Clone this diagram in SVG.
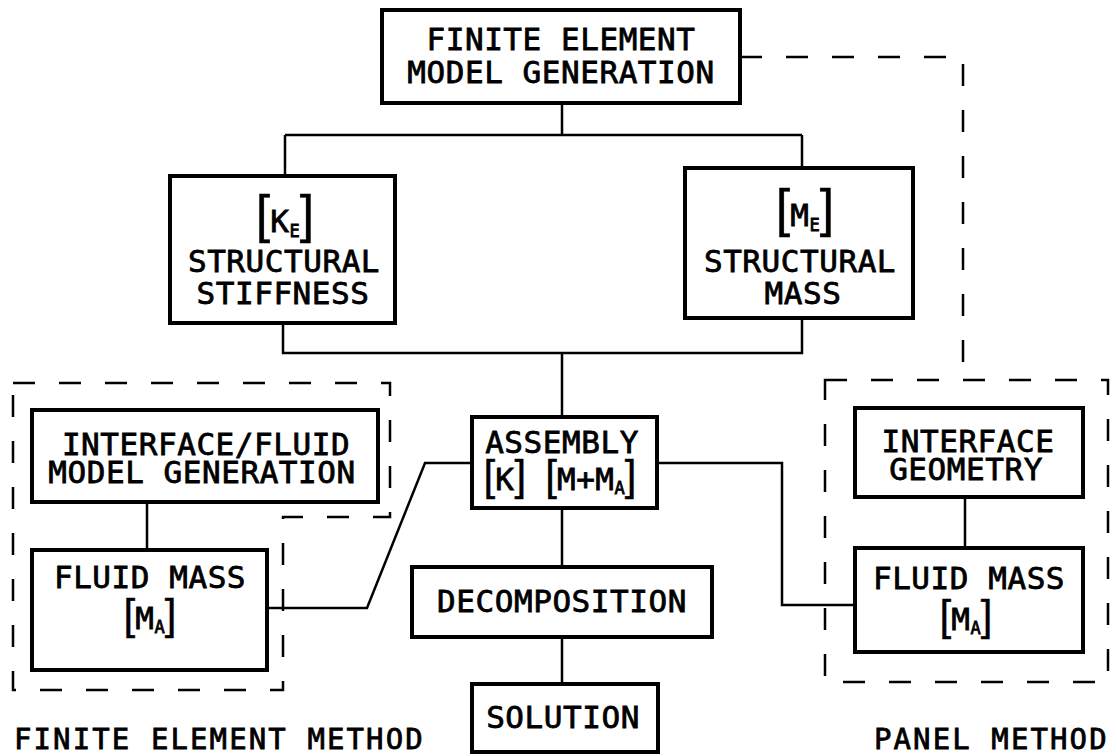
<svg xmlns="http://www.w3.org/2000/svg" width="1117" height="756" viewBox="0 0 1117 756">
<style>
.box{fill:#fff;stroke:#000;stroke-width:4}
.ln{fill:none;stroke:#000;stroke-width:2.5}
.dash{fill:none;stroke:#000;stroke-width:2.5;stroke-dasharray:22 24}
.t{font-family:"DejaVu Sans Mono",monospace;font-size:31px;letter-spacing:0.55px;text-anchor:middle;fill:#000;stroke:#000;stroke-width:0.8}
.cap{font-family:"DejaVu Sans Mono",monospace;font-size:29px;letter-spacing:2.1px;fill:#000;stroke:#000;stroke-width:0.8}
.br{font-family:"Liberation Sans",sans-serif;font-size:52px;letter-spacing:0;stroke-width:0.4}
.brs{font-family:"Liberation Sans",sans-serif;font-size:42px;letter-spacing:0;stroke-width:0.4}
.sub{font-size:17px;letter-spacing:0;stroke-width:0.8}
</style>
<rect width="1117" height="756" fill="#fff"/>
<g id="groups">
<path class="dash" d="M740,57 H963 V380"/>
<path class="dash" d="M13,383 H390 V517 H283 V690 H13 Z"/>
<rect class="dash" x="825" y="380" width="283" height="302"/>
</g>
<g id="connectors">
<path class="ln" d="M562,103 V135 M285,135 H802 M285,135 V176 M802,135 V168"/>
<path class="ln" d="M283,322 V353 H802 V318 M562,353 V417"/>
<path class="ln" d="M562,508 V567 M562,637 V684"/>
<path class="ln" d="M657,463 H782 V605 H855"/>
<path class="ln" d="M472,463 H425 L367,608 H267"/>
<path class="ln" d="M147,502 V550 M965,497 V548"/>
</g>
<g id="fe-model">
<rect class="box" x="382" y="10" width="358" height="93"/>
<text class="t" x="561" y="50">FINITE ELEMENT</text>
<text class="t" x="561" y="83">MODEL GENERATION</text>
</g>
<g id="stiffness">
<rect class="box" x="170" y="176" width="225" height="147"/>
<text class="t" x="285" y="232"><tspan class="br">[</tspan>K<tspan class="sub" dy="5">E</tspan><tspan class="br" dy="-5">]</tspan></text>
<text class="t" x="284" y="272">STRUCTURAL</text>
<text class="t" x="283" y="304">STIFFNESS</text>
</g>
<g id="mass">
<rect class="box" x="685" y="168" width="228" height="150"/>
<text class="t" x="805" y="226"><tspan class="br">[</tspan>M<tspan class="sub" dy="5">E</tspan><tspan class="br" dy="-5">]</tspan></text>
<text class="t" x="800" y="272">STRUCTURAL</text>
<text class="t" x="803" y="304">MASS</text>
</g>
<g id="if-fluid-gen">
<rect class="box" x="32" y="410" width="346" height="92"/>
<text class="t" x="206" y="455">INTERFACE/FLUID</text>
<text class="t" x="202" y="483">MODEL GENERATION</text>
</g>
<g id="fluid-mass-fe">
<rect class="box" x="32" y="550" width="235" height="120"/>
<text class="t" x="150" y="588">FLUID MASS</text>
<text class="t" x="150" y="629"><tspan class="brs">[</tspan>M<tspan class="sub" dy="4">A</tspan><tspan class="brs" dy="-4">]</tspan></text>
</g>
<g id="assembly">
<rect class="box" x="472" y="417" width="185" height="91"/>
<text class="t" x="562" y="453">ASSEMBLY</text>
<text class="t" x="560" y="490"><tspan class="brs">[</tspan>K<tspan class="brs">]</tspan> <tspan class="brs">[</tspan>M+M<tspan class="sub" dy="4">A</tspan><tspan class="brs" dy="-4">]</tspan></text>
</g>
<g id="decomposition">
<rect class="box" x="412" y="567" width="300" height="70"/>
<text class="t" x="562" y="612">DECOMPOSITION</text>
</g>
<g id="solution">
<rect class="box" x="472" y="684" width="186" height="68"/>
<text class="t" x="563" y="728">SOLUTION</text>
</g>
<g id="if-geometry">
<rect class="box" x="855" y="408" width="228" height="89"/>
<text class="t" x="968" y="452">INTERFACE</text>
<text class="t" x="966" y="480">GEOMETRY</text>
</g>
<g id="fluid-mass-panel">
<rect class="box" x="855" y="548" width="228" height="104"/>
<text class="t" x="969" y="589">FLUID MASS</text>
<text class="t" x="966" y="630"><tspan class="brs">[</tspan>M<tspan class="sub" dy="4">A</tspan><tspan class="brs" dy="-4">]</tspan></text>
</g>
<g id="labels">
<text class="cap" x="14" y="749">FINITE ELEMENT METHOD</text>
<text class="cap" x="874" y="749" letter-spacing="1.6">PANEL METHOD</text>
</g>
</svg>
